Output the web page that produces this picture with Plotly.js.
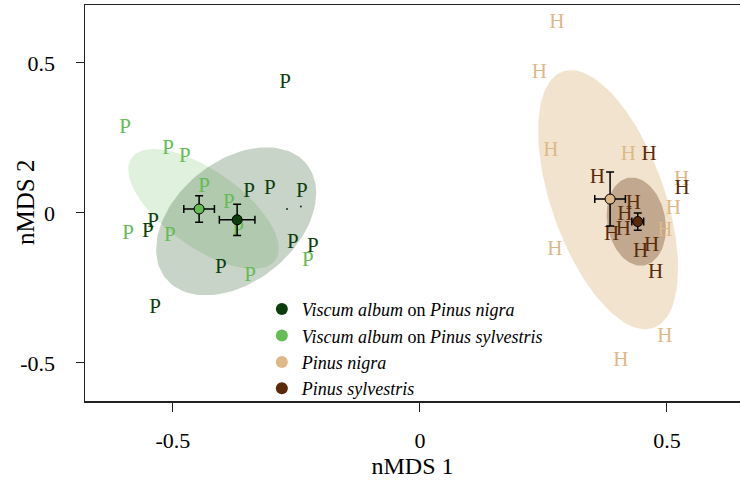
<!DOCTYPE html>
<html><head><meta charset="utf-8">
<script src="https://cdn.plot.ly/plotly-3.0.1.min.js"></script>
<style>html,body{margin:0;padding:0;background:#fff;overflow:hidden}</style>
</head><body><div id="chart" style="width:740px;height:481px"></div>
<script>
// Group names (legend order)
const groupNames = [
  '<i>Viscum album</i> on <i>Pinus nigra</i>',
  '<i>Viscum album</i> on <i>Pinus sylvestris</i>',
  '<i>Pinus nigra</i>',
  '<i>Pinus sylvestris</i>'
];
const groupLetters = ['P', 'P', 'H', 'H'];
const groupColors = ['#0b3d0b', '#66bb55', '#deb887', '#5a2a08'];

// Sample scores (nMDS 1, nMDS 2)
const vnX = [-0.273, -0.346, -0.304, -0.239, -0.540, -0.551, -0.257, -0.217, -0.403, -0.536];
const vnY = [0.434, 0.070, 0.080, 0.070, -0.030, -0.063, -0.100, -0.113, -0.183, -0.316];
const vsX = [-0.597, -0.510, -0.476, -0.437, -0.387, -0.591, -0.506, -0.368, -0.227, -0.344];
const vsY = [0.284, 0.214, 0.187, 0.087, 0.034, -0.070, -0.076, -0.056, -0.160, -0.210];
const pnX = [0.277, 0.242, 0.265, 0.422, 0.530, 0.513, 0.496, 0.273, 0.496, 0.407];
const pnY = [0.635, 0.468, 0.208, 0.194, 0.110, 0.013, -0.060, -0.123, -0.414, -0.492];
const psX = [0.464, 0.359, 0.531, 0.432, 0.415, 0.412, 0.388, 0.469, 0.447, 0.477];
const psY = [0.194, 0.116, 0.079, 0.030, -0.006, -0.056, -0.073, -0.109, -0.131, -0.199];
const strayX = [-0.269, -0.241];
const strayY = [0.013, 0.021];

// Group centroids with standard errors
const cenX = [-0.370, -0.447, 0.385, 0.441];
const cenY = [-0.023, 0.013, 0.046, -0.029];
const cenSEx = [0.036, 0.031, 0.031, 0.012];
const cenSEy = [0.052, 0.044, 0.090, 0.029];

// Ellipses: centre, half-extent in x and y, correlation
const ellCX = [-0.372, -0.438, 0.381, 0.438];
const ellCY = [-0.028, 0.013, 0.044, -0.029];
const ellHX = [0.162, 0.1525, 0.1417, 0.060];
const ellHY = [0.2467, 0.200, 0.432, 0.147];
const ellR = [0.38, -0.66, -0.53, -0.15];
const ellAlpha = [0.22, 0.2, 0.4, 0.32];

const ptsX = [vnX, vsX, pnX, psX];
const ptsY = [vnY, vsY, pnY, psY];

function hexToRgba(h, a) {
  const r = parseInt(h.slice(1,3),16), g = parseInt(h.slice(3,5),16), b = parseInt(h.slice(5,7),16);
  return `rgba(${r},${g},${b},${a})`;
}
function ellipse(i) {
  const xs = [], ys = [];
  const alpha = Math.acos(ellR[i]);
  for (let k = 0; k <= 120; k++) {
    const t = 2 * Math.PI * k / 120;
    xs.push(ellCX[i] + ellHX[i] * Math.cos(t));
    ys.push(ellCY[i] + ellHY[i] * Math.cos(t + alpha));
  }
  return {xs, ys};
}

const serif = '"Liberation Serif", "Times New Roman", serif';
const traces = [];
// ellipses
[2, 3, 1, 0].forEach(i => {
  const e = ellipse(i);
  traces.push({x: e.xs, y: e.ys, type: 'scatter', mode: 'lines', fill: 'toself',
    fillcolor: hexToRgba(groupColors[i], ellAlpha[i]), line: {width: 0, color: 'rgba(0,0,0,0)'},
    hoverinfo: 'skip', showlegend: false});
});
// letters
[1, 0, 2, 3].forEach(i => {
  traces.push({x: ptsX[i], y: ptsY[i], type: 'scatter', mode: 'text',
    text: ptsX[i].map(() => groupLetters[i]), textposition: 'middle center',
    textfont: {family: serif, size: 21, color: groupColors[i]}, showlegend: false});
});
traces.push({x: strayX, y: strayY, type: 'scatter', mode: 'markers',
  marker: {size: 2, color: '#0b3d0b'}, showlegend: false});
// centroids
[0, 1, 2, 3].forEach(i => {
  traces.push({x: [cenX[i]], y: [cenY[i]], type: 'scatter', mode: 'markers',
    marker: {size: 10, color: groupColors[i], line: {color: '#000', width: 1}},
    error_x: {type: 'data', array: [cenSEx[i]], color: '#000', thickness: 1.5, width: 4},
    error_y: {type: 'data', array: [cenSEy[i]], color: '#000', thickness: 1.5, width: 4},
    showlegend: false});
});
// legend entries
[0, 1, 2, 3].forEach(i => {
  traces.push({x: [null], y: [null], type: 'scatter', mode: 'markers', name: groupNames[i],
    marker: {size: 12, color: groupColors[i]}, showlegend: true});
});

const layout = {
  width: 740, height: 481,
  margin: {l: 85, r: 0, t: 5, b: 80},
  paper_bgcolor: '#fff', plot_bgcolor: '#fff',
  font: {family: serif, color: '#000'},
  xaxis: {range: [-0.678, 0.648], tickvals: [-0.5, 0, 0.5], ticktext: ['-0.5', '0', '0.5'],
    showgrid: false, zeroline: false, showline: true, mirror: true, linecolor: '#222', linewidth: 1.5,
    ticks: 'outside', ticklen: 9, tickwidth: 1, tickcolor: '#222', ticklabelstandoff: 10,
    tickfont: {family: serif, size: 22, color: '#000'},
    title: {text: 'nMDS 1', font: {family: serif, size: 24, color: '#000'}, standoff: 2}},
  yaxis: {range: [-0.627, 0.693], tickvals: [-0.5, 0, 0.5], ticktext: ['-0.5', '0', '0.5'],
    showgrid: false, zeroline: false, showline: true, mirror: false, linecolor: '#222', linewidth: 1.5,
    ticks: 'outside', ticklen: 8, tickwidth: 1, tickcolor: '#222', ticklabelstandoff: 16,
    tickfont: {family: serif, size: 22, color: '#000'},
    title: {text: '', font: {family: serif, size: 24, color: '#000'}}},
  annotations: [{text: 'nMDS 2', xref: 'paper', yref: 'paper', x: 0, y: 0.5, xshift: -60,
    xanchor: 'center', yanchor: 'middle', textangle: -90, showarrow: false,
    font: {family: serif, size: 25, color: '#000'}}],
  legend: {x: 0.27, y: 0.278, xanchor: 'left', yanchor: 'top', bgcolor: 'rgba(0,0,0,0)',
    font: {family: serif, size: 18, color: '#000'}, itemwidth: 30, tracegroupgap: 0},
  showlegend: true
};
Plotly.newPlot('chart', traces, layout, {displayModeBar: false, staticPlot: true});
</script></body></html>
